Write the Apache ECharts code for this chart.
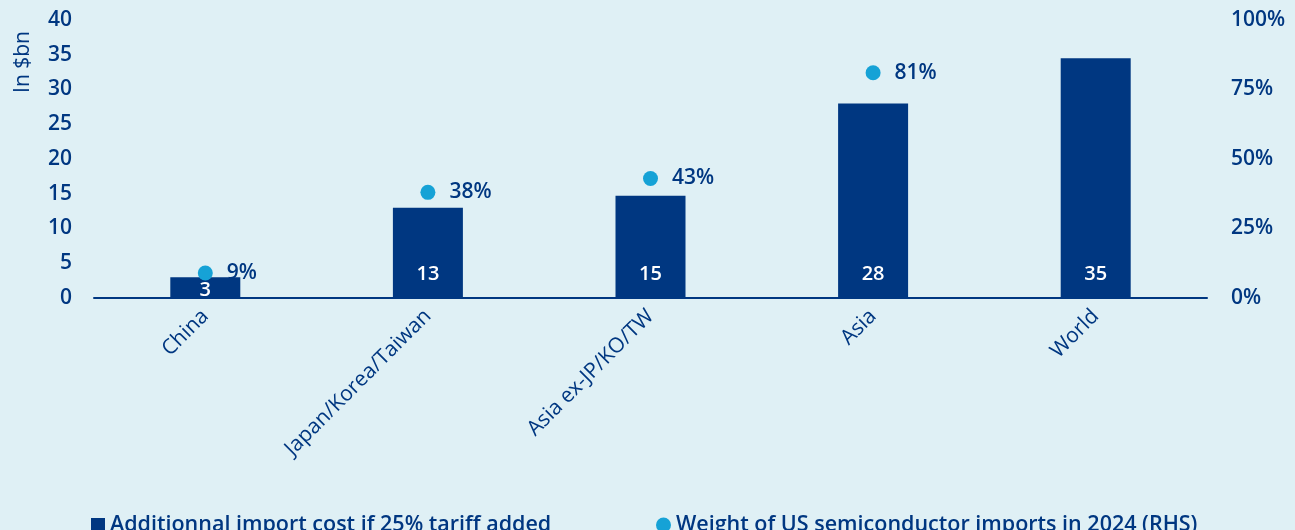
<!DOCTYPE html>
<html><head><meta charset="utf-8">
<script src="https://cdn.jsdelivr.net/npm/echarts@6/dist/echarts.min.js"></script>
<style>html,body{margin:0;padding:0;background:#dff0f5;}#c{width:1295px;height:530px;}</style>
</head><body><div id="c"></div>
<script>
const categories = ['China', 'Japan/Korea/Taiwan', 'Asia ex-JP/KO/TW', 'Asia', 'World'];
const costValues = [3, 13, 14.7, 28, 34.5];
const weightValues = [9, 38, 43, 81, null];
const leftTicks = [0, 40, 5];
const rightTicks = [0, 100, 25];
const barName = 'Additionnal import cost if 25% tariff added';
const dotName = 'Weight of US semiconductor imports in 2024 (RHS)';

const DARK = '#003781', LIGHT = '#16a2d6', FONT = 'Open Sans';
const txt = {color: DARK, fontFamily: FONT, fontWeight: 600, fontSize: 21};
const med = {color: DARK, fontFamily: FONT, fontWeight: 500, fontSize: 22};
const leg = {color: DARK, fontFamily: FONT, fontWeight: 600, fontSize: 21.5};

const chart = echarts.init(document.getElementById('c'));
chart.setOption({
  backgroundColor: '#dff0f5',
  animation: false,
  textStyle: {fontFamily: FONT},
  grid: {left: 94, right: 88, top: 20, bottom: 232, containLabel: false},
  graphic: [{
    type: 'text', left: 13, top: 31, rotation: Math.PI / 2,
    style: {text: 'In $bn', fontSize: 21, fill: DARK, fontFamily: FONT, fontWeight: 500}
  }],
  legend: [
    {data: [{name: barName, icon: 'rect'}], left: 86, top: 509, itemWidth: 14, itemHeight: 14, itemGap: 5,
     textStyle: leg},
    {data: [{name: dotName, icon: 'circle'}], left: 651, top: 509, itemWidth: 15, itemHeight: 15, itemGap: 5,
     textStyle: leg}
  ],
  xAxis: {
    type: 'category', data: categories,
    axisLine: {lineStyle: {color: DARK, width: 2}},
    axisTick: {show: false},
    axisLabel: Object.assign({}, med, {fontSize: 21, rotate: 45, margin: 15, interval: 0})
  },
  yAxis: [{
    type: 'value', min: leftTicks[0], max: leftTicks[1], interval: leftTicks[2],
    splitLine: {show: false}, axisLine: {show: false}, axisTick: {show: false},
    axisLabel: Object.assign({}, txt, {margin: 22})
  }, {
    type: 'value', min: rightTicks[0], max: rightTicks[1], interval: rightTicks[2],
    splitLine: {show: false}, axisLine: {show: false}, axisTick: {show: false},
    axisLabel: Object.assign({}, txt, {margin: 24, formatter: '{value}%'})
  }],
  series: [{
    name: barName, type: 'bar', barWidth: 70, yAxisIndex: 0,
    itemStyle: {color: DARK},
    data: costValues.map((v, i) => i === 0 ? {value: v, label: {distance: -2}} : v),
    label: {show: true, position: 'insideBottom', distance: 14, color: '#fff',
      fontFamily: FONT, fontWeight: 600, fontSize: 20,
      formatter: p => Math.round(p.value)}
  }, {
    name: dotName, type: 'scatter', yAxisIndex: 1, symbolSize: 15,
    itemStyle: {color: LIGHT, opacity: 1},
    data: weightValues,
    label: Object.assign({show: true, position: 'right', distance: 14,
      formatter: p => p.value + '%'}, txt)
  }]
});
</script></body></html>
